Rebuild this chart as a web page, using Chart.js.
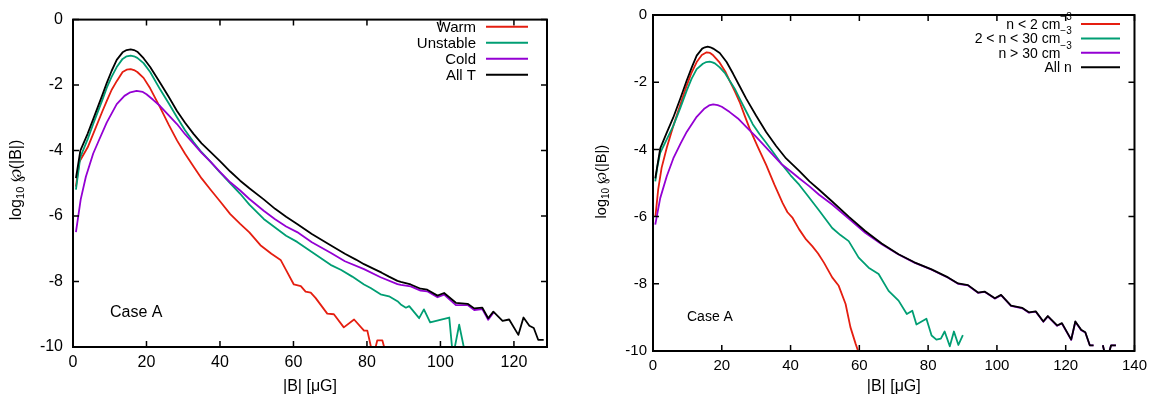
<!DOCTYPE html>
<html>
<head>
<meta charset="utf-8">
<script src="https://cdn.jsdelivr.net/npm/chart.js@4.4.1/dist/chart.umd.min.js"></script>
<style>
    body { margin: 0; background: #fff; width: 1153px; height: 398px; position: relative; overflow: hidden; }
    .panel { position: absolute; top: 0; }
    #leftBox { left: 0; }
    #rightBox { left: 580px; }
</style>
</head>
<body>
<div class="panel" id="leftBox"><canvas id="leftChart" width="560" height="398"></canvas></div>
<div class="panel" id="rightBox"><canvas id="rightChart" width="573" height="398"></canvas></div>
<script>
// ---- left panel: split by temperature ----
const warmB = [0.8, 1.7, 4, 5.5, 8, 9.2, 10.5, 11.9, 13.5, 14.6, 15.7, 16.6, 17.5, 19.2, 21, 23.7, 26, 28.3, 30.5, 32.8, 35, 37.4, 40, 42.8, 45.5, 48, 51, 54, 56.5, 58, 60.1, 62, 63.3, 64.7, 66, 69.2, 71, 73.7, 76.5, 79.2, 80.1, 81.7, 82.8, 84.2, 85.4];
const warmV = [-5.1, -4.35, -3.9, -3.49, -2.8, -2.48, -2.15, -1.88, -1.6, -1.53, -1.51, -1.54, -1.6, -1.78, -2.1, -2.68, -3.2, -3.69, -4.1, -4.49, -4.85, -5.19, -5.55, -5.94, -6.24, -6.5, -6.89, -7.15, -7.34, -7.65, -8.09, -8.14, -8.31, -8.34, -8.5, -8.98, -9.0, -9.4, -9.16, -9.5, -9.5, -10.3, -9.8, -9.8, -10.3];

const unstableB = [0.8, 2, 4, 5.5, 8, 9.2, 10.5, 11.9, 13.5, 14.6, 15.7, 16.6, 17.5, 19.2, 21, 23.7, 26, 28.3, 30.5, 32.8, 35, 37.4, 40, 42.8, 45.5, 48, 51.9, 55, 58, 61, 65, 70.1, 73, 76, 79.2, 81, 83.7, 86, 88.3, 89.2, 90.6, 91.5, 94.2, 95.5, 97.2, 102.4, 103.4, 105.1, 106.9];
const unstableV = [-5.19, -4.2, -3.65, -3.19, -2.45, -2.08, -1.75, -1.45, -1.2, -1.12, -1.1, -1.12, -1.17, -1.33, -1.6, -2.13, -2.55, -2.98, -3.38, -3.74, -4.05, -4.34, -4.67, -5.0, -5.32, -5.65, -6.09, -6.35, -6.6, -6.79, -7.1, -7.49, -7.65, -7.85, -8.09, -8.2, -8.39, -8.45, -8.6, -8.7, -8.8, -8.75, -9.12, -8.85, -9.25, -9.1, -10.3, -9.32, -10.3];

const coldB = [0.8, 2.1, 3.5, 5.5, 7, 9.2, 11.9, 14, 15.6, 17.3, 19, 20, 21.8, 23.7, 26, 28.3, 30.5, 32.8, 35, 37.4, 40, 42.8, 45.5, 48, 51.9, 55, 58, 61, 65, 70.1, 74, 79.2, 83.7, 88.3, 89.2, 91.9, 94.6, 96.4, 99.2, 101, 104.2, 107.4, 109.2, 111.4, 113, 114.4];
const coldV = [-6.49, -5.49, -4.8, -4.09, -3.7, -3.14, -2.58, -2.33, -2.22, -2.18, -2.21, -2.28, -2.45, -2.64, -2.92, -3.19, -3.5, -3.79, -4.07, -4.34, -4.65, -4.97, -5.22, -5.48, -5.84, -6.1, -6.32, -6.49, -6.8, -7.12, -7.38, -7.62, -7.87, -8.08, -8.1, -8.15, -8.28, -8.3, -8.48, -8.4, -8.72, -8.72, -8.87, -8.84, -9.17, -8.95];

const allTB = [0.8, 2, 4, 5.5, 8, 9.2, 10.5, 11.9, 13.5, 14.6, 15.7, 16.6, 17.5, 19.2, 21, 23.7, 26, 28.3, 30.5, 32.8, 35, 37.4, 40, 42.8, 45.5, 48, 51.9, 55, 58, 61, 65, 70.1, 74, 77, 79.2, 82, 84, 86, 88.3, 89.2, 91.9, 94.6, 96.4, 99.2, 101, 104.2, 107.4, 109.2, 111.4, 113, 114.4, 116.9, 118.7, 121.2, 122.6, 124.2, 125.4, 126.6, 128.1];
const allTV = [-4.84, -4.0, -3.48, -3.04, -2.3, -1.93, -1.57, -1.23, -1.0, -0.93, -0.91, -0.93, -0.98, -1.18, -1.45, -1.93, -2.35, -2.79, -3.15, -3.49, -3.78, -4.04, -4.32, -4.64, -4.92, -5.15, -5.49, -5.78, -6.02, -6.24, -6.55, -6.89, -7.15, -7.33, -7.47, -7.62, -7.73, -7.85, -7.98, -8.01, -8.09, -8.22, -8.25, -8.43, -8.35, -8.65, -8.68, -8.82, -8.8, -9.12, -8.92, -9.2, -9.16, -9.63, -9.1, -9.35, -9.42, -9.78, -9.78];

// ---- right panel: split by density ----
const lowB = [0.7, 1.5, 2.5, 4, 5.9, 8, 9.8, 11.2, 12.7, 14.2, 15.6, 16.6, 17.5, 19.4, 21, 22.3, 23.8, 25.2, 26.6, 28.1, 30.5, 32.9, 35.3, 37.7, 39.1, 40.6, 42.5, 44.5, 46.3, 48, 49.7, 52.1, 54, 56, 57.4, 58.9, 59.8];
const lowV = [-6.0, -5.2, -4.55, -3.95, -3.3, -2.65, -2.1, -1.72, -1.4, -1.19, -1.11, -1.13, -1.2, -1.42, -1.68, -1.96, -2.27, -2.59, -2.98, -3.38, -3.93, -4.46, -5.05, -5.6, -5.87, -6.04, -6.38, -6.68, -6.88, -7.1, -7.37, -7.81, -8.06, -8.6, -9.29, -9.78, -10.05];

const midB = [0.66, 1.3, 2.1, 4, 5.9, 8, 9.8, 11.2, 12.7, 14.5, 15.5, 16.5, 17.3, 18, 19.4, 21, 22.3, 23.8, 25.2, 27, 29, 31, 32.9, 35.2, 37.5, 40, 42.5, 45, 48.3, 52.1, 54.5, 56.9, 59.8, 62.7, 65.6, 68.5, 71.4, 73.8, 75.4, 76.6, 79.5, 81, 82.4, 83.7, 84.8, 86.3, 87.5, 88.8, 90.1];
const midV = [-4.95, -4.5, -4.1, -3.7, -3.3, -2.75, -2.25, -1.9, -1.61, -1.45, -1.4, -1.39, -1.41, -1.44, -1.56, -1.74, -1.96, -2.2, -2.49, -2.85, -3.25, -3.55, -3.8, -4.12, -4.45, -4.77, -5.05, -5.38, -5.82, -6.34, -6.55, -6.73, -7.22, -7.52, -7.71, -8.21, -8.5, -8.9, -8.8, -9.21, -9.04, -9.54, -9.66, -9.63, -9.42, -9.86, -9.42, -9.82, -9.53];

const highB = [0.66, 2.1, 4, 5.9, 8, 9.8, 12.7, 15, 16.3, 17.5, 18.8, 20, 22.3, 24.7, 27.1, 30, 32.9, 35.2, 37.5, 40, 42.5, 45.5, 48.3, 52.1, 56.9, 61.7, 66.5, 71.4, 76, 81, 85.8, 88.7, 91.6, 94.5, 96.4, 99.4, 101.2, 104.1, 107.4, 109.3, 111.3, 113.5, 114.8, 117.5, 118.9, 121.6, 122.8, 124.5, 125.7, 127, 128.1, 129.5, 130.8, 131.9, 133.2, 134.6];
const highV = [-6.24, -5.45, -4.8, -4.27, -3.83, -3.48, -3.03, -2.78, -2.69, -2.66, -2.68, -2.73, -2.89, -3.08, -3.33, -3.63, -3.95, -4.2, -4.45, -4.65, -4.86, -5.1, -5.35, -5.64, -6.06, -6.48, -6.82, -7.13, -7.37, -7.58, -7.82, -8.0, -8.05, -8.27, -8.24, -8.44, -8.34, -8.66, -8.73, -8.86, -8.83, -9.13, -8.97, -9.25, -9.18, -9.67, -9.13, -9.38, -9.45, -9.83, -9.83, null, -9.83, -10.3, -9.83, -9.83];

const allNB = [0.66, 2.1, 4, 5.9, 8, 9.8, 11.3, 12.7, 14.3, 15.1, 15.9, 16.7, 17.5, 19.4, 21.4, 23.3, 25.2, 27.1, 30, 32.9, 35.8, 38.7, 42.5, 45.5, 48.3, 52.1, 56.9, 61.7, 66.5, 71.4, 76, 81, 85.8, 88.7, 91.6, 94.5, 96.4, 99.4, 101.2, 104.1, 107.4, 109.3, 111.3, 113.5, 114.8, 117.5, 118.9, 121.6, 122.8, 124.5, 125.7, 127, 128.1, 129.5, 130.8, 131.9, 133.2, 134.6];
const allNV = [-4.86, -3.97, -3.5, -3.05, -2.47, -1.95, -1.55, -1.21, -1.0, -0.96, -0.94, -0.96, -1.0, -1.13, -1.4, -1.75, -2.12, -2.49, -3.0, -3.48, -3.9, -4.27, -4.64, -4.95, -5.2, -5.55, -6.0, -6.43, -6.8, -7.12, -7.36, -7.57, -7.81, -7.99, -8.04, -8.26, -8.23, -8.43, -8.33, -8.65, -8.72, -8.85, -8.82, -9.12, -8.96, -9.24, -9.17, -9.66, -9.12, -9.37, -9.44, -9.83, -9.83, null, -9.83, -10.3, -9.83, -9.83];

const yTicks = [0, -2, -4, -6, -8, -10];
const leftLabels = ["Warm", "Unstable", "Cold", "All T"];
const rightLabels = ["n < 2 cm", "2 < n < 30 cm", "n > 30 cm", "All n"];
const rightSups = ["\u22123", "\u22123", "\u22123", ""];
const colors = ["#e51e10", "#009e73", "#9400d3", "#000000"];

const FONT = "'Liberation Sans', Arial, Helvetica, sans-serif";

function pts(bs, vs) {
    return bs.map((b, i) => ({ x: b, y: vs[i] }));
}

function makeSet(label, bs, vs, i) {
    return {
        label: label,
        data: pts(bs, vs),
        borderColor: colors[i],
        backgroundColor: colors[i],
        borderWidth: 1.8,
        borderJoinStyle: "round",
        pointRadius: 0,
        tension: 0,
        spanGaps: false,
        order: 3 - i
    };
}

// gnuplot look: box frame, inward ticks, key with line samples on the right
const gnuFrame = {
    id: "gnuFrame",
    afterDatasetsDraw(chart, args, o) {
        const ctx = chart.ctx;
        const a = chart.chartArea;
        const xs = chart.scales.x, ys = chart.scales.y;
        ctx.save();
        ctx.strokeStyle = "#000";
        ctx.lineWidth = 1.5;
        ctx.beginPath();
        xs.ticks.forEach(t => {
            const px = xs.getPixelForValue(t.value);
            ctx.moveTo(px, a.bottom); ctx.lineTo(px, a.bottom - 6);
            ctx.moveTo(px, a.top); ctx.lineTo(px, a.top + 6);
        });
        ys.ticks.forEach(t => {
            const py = ys.getPixelForValue(t.value);
            ctx.moveTo(a.left, py); ctx.lineTo(a.left + 6, py);
            ctx.moveTo(a.right, py); ctx.lineTo(a.right - 6, py);
        });
        ctx.stroke();
        ctx.lineWidth = 2;
        ctx.strokeRect(a.left, a.top, a.right - a.left, a.bottom - a.top);

        // key
        ctx.fillStyle = "#000";
        ctx.textBaseline = "middle";
        chart.data.datasets.forEach((ds, i) => {
            const y = o.keyTop + i * o.keyStep;
            const sup = o.sups ? o.sups[i] : "";
            ctx.font = Math.round(o.keySize * 0.72) + "px " + FONT;
            const supW = sup ? ctx.measureText(sup).width : 0;
            if (sup) {
                ctx.textAlign = "left";
                ctx.fillText(sup, o.keyRight - supW, y - 7);
            }
            ctx.font = o.keySize + "px " + FONT;
            ctx.textAlign = "right";
            ctx.fillText(o.names[i], o.keyRight - supW, y + 1);
            ctx.strokeStyle = ds.borderColor;
            ctx.lineWidth = 2;
            ctx.beginPath();
            ctx.moveTo(o.lineFrom, y);
            ctx.lineTo(o.lineTo, y);
            ctx.stroke();
        });

        // case label
        ctx.font = o.caseSize + "px " + FONT;
        ctx.textAlign = "left";
        ctx.fillStyle = "#000";
        ctx.fillText("Case A", o.caseX, o.caseY);

        // y title: log10 ℘(|B|)
        ctx.translate(o.yTitleX, o.yTitleY);
        ctx.rotate(-Math.PI / 2);
        const big = o.yTitleSize + "px " + FONT;
        const small = Math.round(o.yTitleSize * 0.7) + "px " + FONT;
        ctx.font = big; const w1 = ctx.measureText("log").width;
        ctx.font = small; const w2 = ctx.measureText("10").width;
        ctx.font = big; const w3 = ctx.measureText(" \u2118(|B|)").width;
        let x0 = -(w1 + w2 + w3) / 2;
        ctx.textAlign = "left";
        ctx.font = big; ctx.fillText("log", x0, 0);
        ctx.font = small; ctx.fillText("10", x0 + w1, 4);
        ctx.font = big; ctx.fillText(" \u2118(|B|)", x0 + w1 + w2, 0);
        ctx.restore();
    }
};

function buildChart(id, sets, xMax, geo, key) {
    return new Chart(document.getElementById(id).getContext("2d"), {
        type: "line",
        data: { datasets: sets },
        plugins: [gnuFrame],
        options: {
            responsive: false,
            animation: false,
            layout: { padding: { top: geo.top, right: geo.right, left: 0, bottom: 0 } },
            plugins: {
                legend: { display: false },
                tooltip: { enabled: false },
                gnuFrame: key
            },
            scales: {
                x: {
                    type: "linear",
                    min: 0,
                    max: xMax,
                    grid: { display: false, drawTicks: false },
                    border: { display: false },
                    ticks: { stepSize: 20, includeBounds: false, padding: geo.xPad, color: "#000", font: { family: FONT, size: geo.tickSize }, maxRotation: 0 },
                    title: { display: true, text: "|B| [\u03bcG]", color: "#000", font: { family: FONT, size: geo.titleSize }, padding: { top: 0, bottom: 1.5 } },
                    afterFit: s => { s.height = geo.xH; }
                },
                y: {
                    type: "linear",
                    min: -10,
                    max: 0,
                    grid: { display: false, drawTicks: false },
                    border: { display: false },
                    afterBuildTicks: s => { s.ticks = yTicks.map(v => ({ value: v })); },
                    ticks: { padding: geo.yPad, color: "#000", font: { family: FONT, size: geo.tickSize }, callback: v => String(v) },
                    afterFit: s => { s.width = geo.yW; }
                }
            }
        }
    });
}

buildChart("leftChart", [
    makeSet(leftLabels[0], warmB, warmV, 0),
    makeSet(leftLabels[1], unstableB, unstableV, 1),
    makeSet(leftLabels[2], coldB, coldV, 2),
    makeSet(leftLabels[3], allTB, allTV, 3)
], 129, { top: 14, right: 13, xH: 51, yW: 73, xPad: 6, yPad: 10, tickSize: 16, titleSize: 16 }, {
    names: leftLabels, sups: null, keyRight: 476, keyTop: 26.7, keyStep: 16, keySize: 15,
    lineFrom: 486, lineTo: 528, caseX: 110, caseY: 313, caseSize: 16,
    yTitleX: 17, yTitleY: 180, yTitleSize: 16
});

buildChart("rightChart", [
    makeSet(rightLabels[0] + "\u207b\u00b3", lowB, lowV, 0),
    makeSet(rightLabels[1] + "\u207b\u00b3", midB, midV, 1),
    makeSet(rightLabels[2] + "\u207b\u00b3", highB, highV, 2),
    makeSet(rightLabels[3], allNB, allNV, 3)
], 140, { top: 12, right: 15, xH: 47, yW: 73, xPad: 6, yPad: 6, tickSize: 15, titleSize: 16 }, {
    names: rightLabels, sups: rightSups, keyRight: 491.7, keyTop: 24, keyStep: 14.4, keySize: 14,
    lineFrom: 501, lineTo: 540, caseX: 107, caseY: 316.7, caseSize: 14,
    yTitleX: 22, yTitleY: 181.7, yTitleSize: 14.5
});
</script>
</body>
</html>
